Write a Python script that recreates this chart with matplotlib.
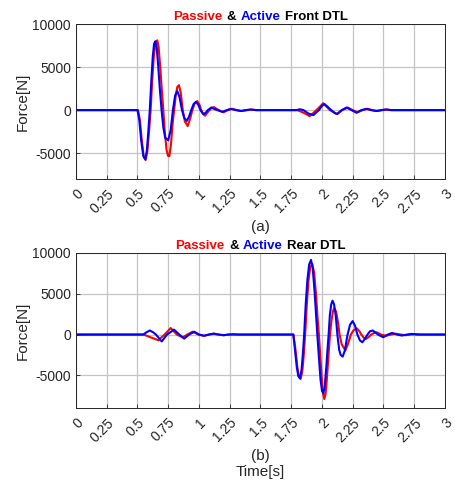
import numpy as np
import matplotlib
matplotlib.use('Agg')
import matplotlib.pyplot as plt
from matplotlib.offsetbox import TextArea, HPacker, AnchoredOffsetbox
from matplotlib.transforms import ScaledTranslation

plt.rcParams['font.family'] = ['Liberation Sans', 'DejaVu Sans']
plt.rcParams['axes.unicode_minus'] = False

# Front DTL - passive (red)
t_front_passive = [0.000, 0.505, 0.520, 0.535, 0.551, 0.566, 0.580, 0.594, 0.607, 0.620,
                   0.633, 0.647, 0.661, 0.672, 0.685, 0.698, 0.710, 0.722, 0.736, 0.748,
                   0.759, 0.772, 0.786, 0.798, 0.812, 0.824, 0.837, 0.852, 0.868, 0.885,
                   0.908, 0.928, 0.946, 0.965, 0.986, 1.005, 1.018, 1.035, 1.049, 1.068,
                   1.085, 1.105, 1.122, 1.150, 1.160, 1.200, 1.235, 1.270, 1.310, 1.350,
                   1.390, 1.430, 1.470, 1.800, 1.850, 1.900, 1.955, 2.010, 2.065, 2.120,
                   2.165, 2.210, 2.250, 2.290, 2.330, 2.370, 2.410, 2.450, 2.490, 2.530,
                   2.570, 3.000]
f_front_passive = [0, 0, -1200, -3500, -5400, -5800, -4800, -2500, 0, 3500,
                   6300, 7800, 8100, 7300, 5000, 2300, 0, -2500, -4600, -5300,
                   -5350, -4000, -1500, 0, 1800, 2700, 2900, 2000, 0, -1300,
                   -1850, -1000, 0, 800, 1050, 600, 0, -450, -650, -300,
                   0, 280, 350, 100, 0, -250, 0, 150, 0, -100,
                   0, 60, 0, 0, -300, -700, 0, 800, 0, -450,
                   0, 300, 0, -250, 0, 150, 0, -100, 0, 60,
                   0, 0]

# Front DTL - active (blue)
t_front_active = [0.000, 0.500, 0.515, 0.530, 0.547, 0.563, 0.576, 0.588, 0.600, 0.612,
                  0.624, 0.635, 0.645, 0.656, 0.668, 0.682, 0.696, 0.710, 0.725, 0.750,
                  0.770, 0.788, 0.806, 0.824, 0.842, 0.862, 0.880, 0.900, 0.918, 0.937,
                  0.956, 0.976, 0.995, 1.012, 1.035, 1.055, 1.072, 1.100, 1.130, 1.150,
                  1.190, 1.225, 1.260, 1.300, 1.340, 1.380, 1.420, 1.460, 1.790, 1.820,
                  1.850, 1.890, 1.930, 1.975, 2.000, 2.020, 2.045, 2.075, 2.105, 2.125,
                  2.160, 2.200, 2.240, 2.280, 2.320, 2.360, 2.400, 2.440, 2.480, 2.520,
                  2.560, 3.000]
f_front_active = [0, 0, -1200, -3500, -5300, -5700, -4700, -2500, 0, 3300,
                  6200, 7700, 8000, 7300, 5200, 2400, 0, -2000, -3200, -3500,
                  -2300, 0, 1700, 2200, 1500, 0, -900, -1250, -800, 0,
                  700, 970, 600, 0, -470, -300, 0, 300, 100, 0,
                  -200, 0, 150, 0, -100, 0, 80, 0, 0, 100,
                  0, -400, -580, 0, 500, 700, 400, 0, -350, -450,
                  0, 300, 0, -300, 0, 150, 0, -100, 0, 80,
                  0, 0]

# Rear DTL - passive (red)
t_rear_passive = [0.000, 0.550, 0.600, 0.670, 0.720, 0.770, 0.820, 0.867, 0.905, 0.948,
                  0.995, 1.043, 1.080, 1.120, 1.160, 1.200, 1.240, 1.280, 1.320, 1.767,
                  1.782, 1.800, 1.813, 1.826, 1.840, 1.852, 1.863, 1.876, 1.890, 1.905,
                  1.921, 1.936, 1.951, 1.963, 1.975, 1.988, 2.000, 2.010, 2.019, 2.030,
                  2.042, 2.054, 2.065, 2.078, 2.090, 2.100, 2.115, 2.130, 2.143, 2.160,
                  2.190, 2.210, 2.235, 2.255, 2.282, 2.305, 2.320, 2.340, 2.358, 2.380,
                  2.400, 2.425, 2.445, 2.480, 2.520, 2.560, 2.600, 2.640, 2.680, 2.720,
                  2.760, 2.800, 3.000]
f_rear_passive = [0, 0, -300, -700, 0, 800, 0, -350, 0, 350,
                  0, -150, 0, 100, 0, -80, 0, 60, 0, 0,
                  -1500, -4000, -5200, -5450, -4500, -2500, 0, 3500, 6600, 8300,
                  8650, 7600, 5000, 2300, 0, -3000, -5800, -7300, -7900, -7200,
                  -5000, -2300, 0, 1800, 2900, 3250, 2800, 1500, 0, -1200,
                  -1950, -1200, 0, 500, 770, 400, 0, -400, -530, -300,
                  0, 200, 280, 0, -150, 0, 100, 0, -80, 0,
                  60, 0, 0]

# Rear DTL - active (blue)
t_rear_active = [0.000, 0.547, 0.570, 0.600, 0.630, 0.650, 0.697, 0.740, 0.797, 0.840,
                 0.880, 0.920, 0.962, 1.000, 1.040, 1.080, 1.120, 1.160, 1.200, 1.240,
                 1.767, 1.780, 1.795, 1.808, 1.821, 1.834, 1.845, 1.855, 1.868, 1.882,
                 1.896, 1.911, 1.925, 1.940, 1.952, 1.962, 1.975, 1.988, 2.000, 2.011,
                 2.022, 2.035, 2.045, 2.054, 2.064, 2.075, 2.086, 2.098, 2.112, 2.125,
                 2.140, 2.152, 2.168, 2.185, 2.208, 2.228, 2.249, 2.268, 2.288, 2.308,
                 2.328, 2.350, 2.370, 2.390, 2.412, 2.435, 2.455, 2.498, 2.535, 2.570,
                 2.610, 2.650, 2.690, 2.730, 2.770, 3.000]
f_rear_active = [0, 0, 250, 500, 250, 0, -850, 0, 600, 0,
                 -500, 0, 350, 0, -150, 0, 120, 0, -80, 0,
                 0, -1800, -4000, -5100, -5350, -4300, -2300, 0, 3800, 6800,
                 8600, 9150, 8100, 5200, 2400, 0, -2800, -5500, -6900, -7200,
                 -6400, -4000, -1800, 0, 2400, 3700, 4150, 3700, 2300, 0,
                 -1900, -2500, -2700, -2000, 0, 1200, 1650, 1100, 0, -700,
                 -950, -500, 0, 400, 500, 250, 0, -330, 0, 200,
                 0, -120, 0, 80, 0, 0]

x_ticks = np.arange(0, 3.01, 0.25)
x_labels = ['0', '0.25', '0.5', '0.75', '1', '1.25', '1.5', '1.75', '2', '2.25', '2.5', '2.75', '3']
y_ticks = [-5000, 0, 5000, 10000]

dark = '#262626'

fig = plt.figure(figsize=(4.55, 4.8), dpi=100)
ax1 = fig.add_axes([0.167, 0.627, 0.811, 0.323])
ax2 = fig.add_axes([0.167, 0.150, 0.811, 0.323])


def setup(ax, t_p, f_p, t_a, f_a, name, ylim):
    ax.plot(t_p, f_p, color='red', lw=1.5)
    ax.plot(t_a, f_a, color='blue', lw=1.5)
    ax.set_xlim(0, 3)
    ax.set_ylim(*ylim)
    ax.set_xticks(x_ticks)
    ax.set_xticklabels(x_labels, rotation=45, ha='right', va='center', rotation_mode='anchor')
    ax.set_yticks(y_ticks)
    ax.tick_params(direction='in', length=3, colors=dark, labelsize=10, width=0.6)
    ax.tick_params(axis='x', pad=9)
    shift = ScaledTranslation(0.05, 0, fig.dpi_scale_trans)
    for lab in ax.get_xticklabels():
        lab.set_transform(lab.get_transform() + shift)
    ax.grid(True, color='#c4c4c4', lw=0.9)
    ax.set_axisbelow(True)
    for s in ax.spines.values():
        s.set_color(dark)
        s.set_linewidth(0.7)
    ax.set_ylabel('Force[N]', fontsize=11, color=dark, labelpad=2)
    # multi-coloured title
    props = dict(fontweight='bold', fontsize=9.5)
    parts = [TextArea('Passive', textprops=dict(color='red', **props)),
             TextArea('&', textprops=dict(color='black', **props)),
             TextArea('Active', textprops=dict(color='blue', **props)),
             TextArea(name, textprops=dict(color='black', **props))]
    box = HPacker(children=parts, align='baseline', pad=0, sep=3)
    anch = AnchoredOffsetbox(loc='lower center', child=box, pad=0, borderpad=0.1, frameon=False,
                             bbox_to_anchor=(0.5, 1.0), bbox_transform=ax.transAxes)
    ax.add_artist(anch)


setup(ax1, t_front_passive, f_front_passive, t_front_active, f_front_active, 'Front DTL', (-8000, 10000))
setup(ax2, t_rear_passive, f_rear_passive, t_rear_active, f_rear_active, 'Rear DTL', (-9000, 10000))

fig.text(0.573, 1 - 227 / 480, '(a)', ha='center', va='center', fontsize=11, color=dark)
fig.text(0.573, 1 - 456 / 480, '(b)', ha='center', va='center', fontsize=11, color=dark)
fig.text(0.573, 1 - 472 / 480, 'Time[s]', ha='center', va='center', fontsize=11, color=dark)

fig.savefig('out.png', dpi=100, facecolor='white')
